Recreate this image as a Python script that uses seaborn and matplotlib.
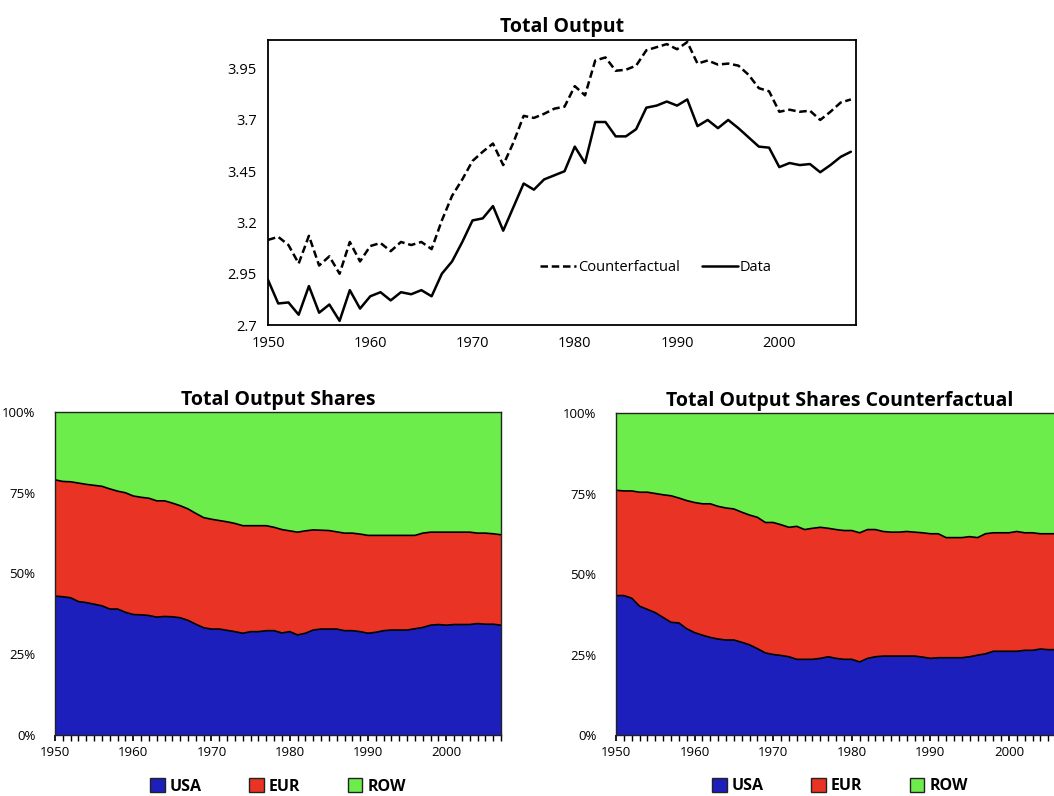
import numpy as np
import pandas as pd
import matplotlib
matplotlib.use("Agg")
import matplotlib.pyplot as plt
import seaborn as sns
from matplotlib.patches import Patch
from matplotlib.ticker import FuncFormatter, MultipleLocator

sns.set_theme(style="white")
plt.rcParams['font.family'] = ['Open Sans', 'DejaVu Sans']
plt.rcParams['text.color'] = 'black'
plt.rcParams['xtick.color'] = 'black'
plt.rcParams['ytick.color'] = 'black'
plt.rcParams['axes.labelcolor'] = 'black'

years = list(range(1950, 2008))

data_out = [2.92, 2.805, 2.81, 2.75, 2.89, 2.76, 2.80, 2.72, 2.87, 2.78,
            2.84, 2.86, 2.82, 2.86, 2.85, 2.87, 2.84, 2.95, 3.01, 3.105,
            3.21, 3.22, 3.28, 3.16, 3.275, 3.39, 3.36, 3.41, 3.43, 3.45,
            3.57, 3.49, 3.69, 3.69, 3.62, 3.62, 3.655, 3.76, 3.77, 3.79,
            3.77, 3.80, 3.67, 3.70, 3.66, 3.70, 3.66, 3.615, 3.57, 3.565,
            3.47, 3.49, 3.48, 3.485, 3.445, 3.48, 3.52, 3.545]
cf_out = [3.115, 3.13, 3.09, 3.00, 3.135, 2.99, 3.035, 2.95, 3.105, 3.01,
          3.085, 3.10, 3.06, 3.105, 3.09, 3.105, 3.07, 3.21, 3.33, 3.41,
          3.50, 3.545, 3.585, 3.48, 3.59, 3.72, 3.71, 3.73, 3.755, 3.765,
          3.865, 3.82, 3.99, 4.005, 3.94, 3.945, 3.965, 4.04, 4.055, 4.07,
          4.045, 4.08, 3.975, 3.99, 3.97, 3.975, 3.965, 3.92, 3.855, 3.84,
          3.74, 3.75, 3.74, 3.745, 3.70, 3.74, 3.785, 3.80]

# Data shares (%): USA, and USA+EUR cumulative
usa_data = [43, 42.8, 42.5, 41.3, 41, 40.5, 40, 39, 39, 38,
            37.3, 37.2, 37, 36.5, 36.7, 36.6, 36.3, 35.5, 34.3, 33.2,
            32.8, 32.8, 32.4, 32, 31.5, 32, 32, 32.3, 32.3, 31.6,
            32, 31, 31.5, 32.5, 32.8, 32.8, 32.8, 32.3, 32.3, 32,
            31.5, 31.8, 32.3, 32.5, 32.5, 32.5, 32.9, 33.3, 34, 34.2,
            34, 34.2, 34.2, 34.2, 34.5, 34.3, 34.3, 34]
usa_eur_data = [79, 78.5, 78.4, 78, 77.6, 77.3, 77, 76.2, 75.5, 75,
                74, 73.6, 73.3, 72.5, 72.5, 71.8, 71, 70, 68.6, 67.3,
                66.8, 66.4, 66, 65.5, 64.8, 64.8, 64.8, 64.8, 64.3, 63.6,
                63.2, 62.8, 63.2, 63.5, 63.4, 63.3, 62.9, 62.5, 62.5, 62.2,
                61.8, 61.8, 61.8, 61.8, 61.8, 61.8, 61.8, 62.5, 62.8, 62.8,
                62.8, 62.8, 62.8, 62.8, 62.5, 62.5, 62.3, 62]

# Counterfactual shares (%)
usa_cf = [43.3, 43.3, 42.5, 40, 39, 38, 36.5, 35, 34.8, 33,
          31.8, 31, 30.3, 29.8, 29.5, 29.5, 28.8, 28, 26.8, 25.5,
          25, 24.7, 24.3, 23.5, 23.5, 23.5, 23.8, 24.3, 23.8, 23.5,
          23.5, 22.7, 23.8, 24.3, 24.5, 24.5, 24.5, 24.5, 24.5, 24.2,
          23.8, 24, 24, 24, 24, 24.3, 24.8, 25.2, 26, 26,
          26, 26, 26.3, 26.3, 26.7, 26.5, 26.5, 26.5]
usa_eur_cf = [76, 75.8, 75.8, 75.4, 75.4, 75, 74.6, 74.3, 73.6, 72.8,
              72.2, 71.8, 71.8, 71, 70.5, 70.2, 69.2, 68.3, 67.6, 66,
              66, 65.3, 64.5, 64.8, 63.8, 64.2, 64.5, 64.2, 63.8, 63.5,
              63.5, 62.8, 63.8, 63.8, 63.2, 63, 63, 63.2, 63, 62.8,
              62.5, 62.5, 61.3, 61.3, 61.3, 61.6, 61.3, 62.5, 62.8, 62.8,
              62.8, 63.2, 62.8, 62.8, 62.5, 62.5, 62.5, 62.5]

regions = ["USA", "EUR", "ROW"]
colors = ["#1c1fbb", "#e93324", "#6ded4b"]

W, H = 1054, 796
fig = plt.figure(figsize=(W/100, H/100), dpi=100)

def axes_px(l, t, r, b):
    return fig.add_axes([l/W, 1-b/H, (r-l)/W, (b-t)/H])

# ---- top chart
ax = axes_px(268, 40, 856, 325)
df = pd.DataFrame({"year": years * 2,
                   "value": cf_out + data_out,
                   "series": ["Counterfactual"] * len(years) + ["Data"] * len(years)})
sns.lineplot(data=df, x="year", y="value", style="series", color="black",
             dashes={"Counterfactual": (3, 1.5), "Data": ""}, linewidth=1.8, ax=ax)
ax.set_xlim(1950, 2007.5)
ax.set_ylim(2.7, 4.09)
ax.set_yticks([2.7, 2.95, 3.2, 3.45, 3.7, 3.95])
ax.set_yticklabels(["2.7", "2.95", "3.2", "3.45", "3.7", "3.95"])
ax.set_xticks([1950, 1960, 1970, 1980, 1990, 2000])
ax.set_xlabel(""); ax.set_ylabel("")
ax.set_title("Total Output", fontsize=14, fontweight="bold", pad=6, color="black")
ax.tick_params(labelsize=10.5, length=0, pad=8)
for s in ax.spines.values():
    s.set_color("black"); s.set_linewidth(1.3)
leg = ax.legend(loc="lower left", bbox_to_anchor=(0.44, 0.13), ncol=2, frameon=False,
                fontsize=10.5, handlelength=2.5, handletextpad=0.1, columnspacing=1.5)

# ---- shares charts
def shares(ax, usa, cum, title):
    usa = np.array(usa); cum = np.array(cum)
    eur = cum - usa
    row = 100 - cum
    ax.stackplot(years, usa, eur, row, colors=colors, edgecolor="none")
    ax.plot(years, usa, color="black", lw=1.2)
    ax.plot(years, cum, color="black", lw=1.2)
    ax.set_xlim(1950, 2007)
    ax.set_ylim(0, 100)
    ax.set_yticks([0, 25, 50, 75, 100])
    ax.yaxis.set_major_formatter(FuncFormatter(lambda v, p: f"{int(v)}%"))
    ax.set_xticks([1950, 1960, 1970, 1980, 1990, 2000])
    ax.xaxis.set_minor_locator(MultipleLocator(1))
    ax.tick_params(axis="y", labelsize=9.5, length=0, pad=14)
    ax.tick_params(axis="x", which="both", direction="out", length=4, color="black",
                   labelsize=9.5, pad=4, bottom=True)
    for s in ax.spines.values():
        s.set_color("#222222"); s.set_linewidth(1.0)
    ax.set_title(title, fontsize=14, fontweight="bold", pad=5, color="black")
    handles = [Patch(facecolor=c, edgecolor="#222222", label=r) for c, r in zip(colors, regions)]
    leg = ax.legend(handles=handles, loc="upper center", bbox_to_anchor=(0.5, -0.09), ncol=3,
                    frameon=False, fontsize=11.5, handlelength=0.9, handleheight=0.9,
                    handletextpad=0.3, columnspacing=3.0)
    for t in leg.get_texts():
        t.set_fontweight("bold")

ax2 = axes_px(55, 412, 501, 735)
shares(ax2, usa_data, usa_eur_data, "Total Output Shares")
ax3 = axes_px(616, 413, 1064, 735)
shares(ax3, usa_cf, usa_eur_cf, "Total Output Shares Counterfactual")

fig.savefig("out.png", dpi=100)
